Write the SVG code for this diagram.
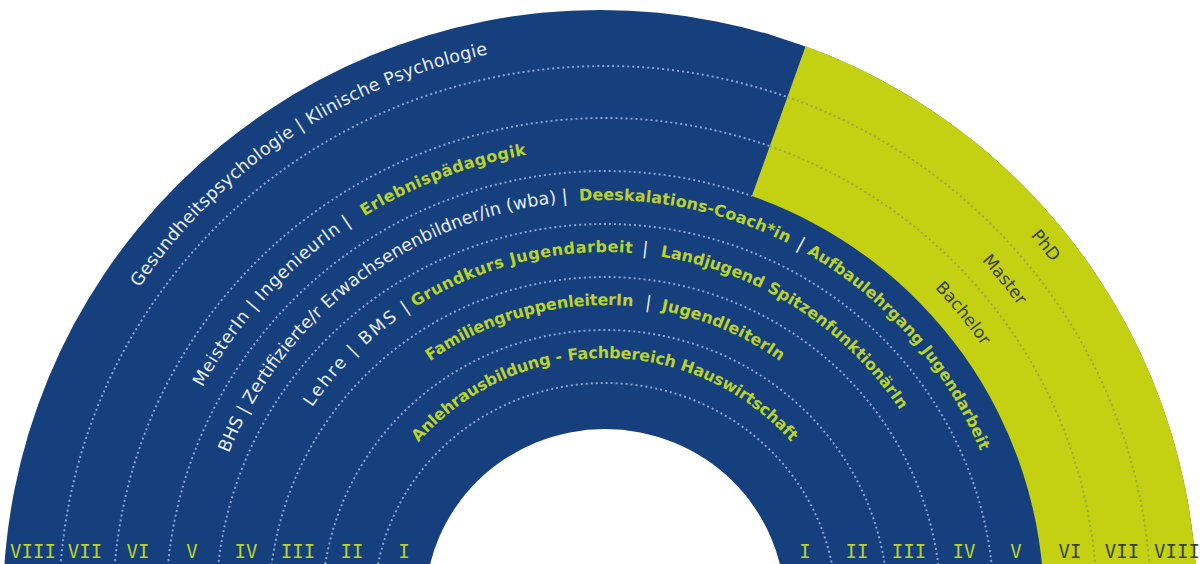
<svg xmlns="http://www.w3.org/2000/svg" width="1200" height="564" viewBox="0 0 1200 564">
<style>
.wt{font-family:"DejaVu Sans",Verdana,sans-serif;font-size:17.5px;fill:#e8eef7}
.gt{font-family:"DejaVu Sans",Verdana,sans-serif;font-size:16px;font-weight:bold;fill:#bad22c}
.dk{font-family:"DejaVu Sans",Verdana,sans-serif;font-size:17px;fill:#3b4232}
.num{font-family:"DejaVu Sans Mono",monospace;font-size:19px;text-anchor:middle}
.nb{fill:#bad22c}
.ng{fill:#3b4232}
.db{fill:none;stroke:#8ba7d9;stroke-width:1.9;stroke-dasharray:2 3}
.dg{fill:none;stroke:#9ca53e;stroke-width:1.9;stroke-dasharray:2 3}
</style>
<defs>
<path id="p564" d="M 41 606 A 564 564 0 0 1 1169 606"/>
<path id="p511" d="M 94 606 A 511 511 0 0 1 1116 606"/>
<path id="p458" d="M 147 606 A 458 458 0 0 1 1063 606"/>
<path id="p406" d="M 199 606 A 406 406 0 0 1 1011 606"/>
<path id="p354" d="M 251 606 A 354 354 0 0 1 959 606"/>
<path id="p301" d="M 304 606 A 301 301 0 0 1 906 606"/>
<path id="p248" d="M 357 606 A 248 248 0 0 1 853 606"/>
</defs>
<g id="background">
<ellipse cx="600" cy="606" rx="597" ry="596" fill="#163f7e"/>
<path id="academic" d="M 805.6 46.3 A 597 596 0 0 1 1197 606 L 1044 606 A 439 435 0 0 0 751.9 196.1 Z" fill="#c3d112"/>
<ellipse cx="605" cy="606" rx="180" ry="177" fill="#ffffff"/>
</g>
<g id="dividers">
<ellipse class="db" cx="605" cy="606" rx="231" ry="223"/>
<ellipse class="db" cx="605" cy="606" rx="283" ry="276"/>
<ellipse class="db" cx="605" cy="606" rx="336" ry="329"/>
<ellipse class="db" cx="605" cy="606" rx="389" ry="382"/>
<path class="db" d="M 166 606 A 439 435 0 0 1 751.9 196.1"/>
<path class="db" d="M 113 606 A 492 488 0 0 1 769.8 146.2"/>
<path class="dg" d="M 769.8 146.2 A 492 488 0 0 1 1097 606"/>
<path class="db" d="M 59 606 A 546 540 0 0 1 787.4 97"/>
<path class="dg" d="M 787.4 97 A 546 540 0 0 1 1151 606"/>
</g>
<g id="level-VIII">
<text class="wt"><textPath href="#p564" startOffset="338" textLength="430" lengthAdjust="spacing">Gesundheitspsychologie | Klinische Psychologie</textPath></text>
<text class="dk" text-anchor="middle"><textPath href="#p564" startOffset="1385">PhD</textPath></text>
</g>
<g id="level-VII">
<text class="dk" text-anchor="middle"><textPath href="#p511" startOffset="1255">Master</textPath></text>
</g>
<g id="level-VI">
<text class="wt"><textPath href="#p458" startOffset="227.8" textLength="223" lengthAdjust="spacing">MeisterIn | IngenieurIn |</textPath></text>
<text class="gt"><textPath href="#p458" startOffset="466" textLength="174.3" lengthAdjust="spacing">Erlebnispädagogik</textPath></text>
<text class="dk" text-anchor="middle"><textPath href="#p458" startOffset="1124.7">Bachelor</textPath></text>
</g>
<g id="level-V">
<text class="wt"><textPath href="#p406" startOffset="156.6" textLength="444" lengthAdjust="spacing">BHS | Zertifizierte/r Erwachsenenbildner/in (wba) |</textPath></text>
<text class="gt"><textPath href="#p406" startOffset="611.5" textLength="215.4" lengthAdjust="spacing">Deeskalations-Coach*in</textPath></text>
<text class="wt" text-anchor="middle"><textPath href="#p406" startOffset="839">|</textPath></text>
<text class="gt"><textPath href="#p406" startOffset="848.2" textLength="267.9" lengthAdjust="spacing">Aufbaulehrgang Jugendarbeit</textPath></text>
</g>
<g id="level-IV">
<text class="wt"><textPath href="#p354" startOffset="210.7" textLength="139" lengthAdjust="spacing">Lehre | BMS |</textPath></text>
<text class="gt"><textPath href="#p354" startOffset="355.3" textLength="228" lengthAdjust="spacing">Grundkurs Jugendarbeit</textPath></text>
<text class="wt" text-anchor="middle"><textPath href="#p354" startOffset="595.6">|</textPath></text>
<text class="gt"><textPath href="#p354" startOffset="611.1" textLength="292.9" lengthAdjust="spacing">Landjugend SpitzenfunktionärIn</textPath></text>
</g>
<g id="level-III">
<text class="gt"><textPath href="#p301" startOffset="285.8" textLength="214.9" lengthAdjust="spacing">FamiliengruppenleiterIn</textPath></text>
<text class="wt" text-anchor="middle"><textPath href="#p301" startOffset="515.4">|</textPath></text>
<text class="gt"><textPath href="#p301" startOffset="529" textLength="130.3" lengthAdjust="spacing">JugendleiterIn</textPath></text>
</g>
<g id="level-II">
<text class="gt"><textPath href="#p248" startOffset="178.3" textLength="421.6" lengthAdjust="spacing">Anlehrausbildung - Fachbereich Hauswirtschaft</textPath></text>
</g>
<g id="level-numbers">
<text class="num nb" x="33" y="558">VIII</text>
<text class="num nb" x="85" y="558">VII</text>
<text class="num nb" x="138" y="558">VI</text>
<text class="num nb" x="192" y="558">V</text>
<text class="num nb" x="246" y="558">IV</text>
<text class="num nb" x="298" y="558">III</text>
<text class="num nb" x="352" y="558">II</text>
<text class="num nb" x="404" y="558">I</text>
<text class="num nb" x="805" y="558">I</text>
<text class="num nb" x="857" y="558">II</text>
<text class="num nb" x="909" y="558">III</text>
<text class="num nb" x="964" y="558">IV</text>
<text class="num nb" x="1016" y="558">V</text>
<text class="num ng" x="1070" y="558">VI</text>
<text class="num ng" x="1122" y="558">VII</text>
<text class="num ng" x="1177" y="558">VIII</text>
</g>
</svg>
